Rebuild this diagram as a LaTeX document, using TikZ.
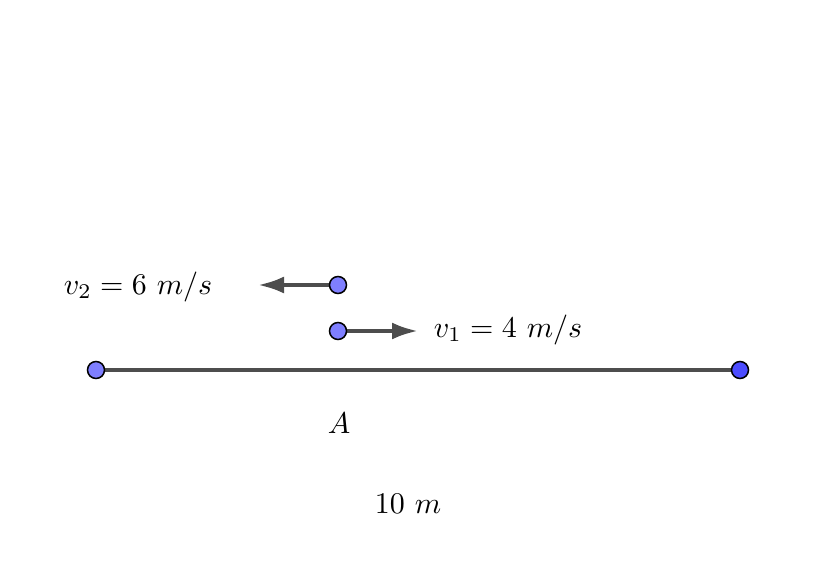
\documentclass[tikz,border=0pt]{standalone}
\usepackage{graphicx}
\usetikzlibrary{arrows.meta}
\definecolor{ptfill}{HTML}{7F7FFF}
\definecolor{ptdark}{HTML}{4D4DFF}
\definecolor{seg}{HTML}{4D4D4D}
\newcommand{\biglbl}[1]{\scalebox{3.0}{$#1$}}
\tikzset{
  pt/.style={circle,draw=black,line width=1.5pt,fill=ptfill,inner sep=0pt,minimum size=17pt},
  ptd/.style={pt,fill=ptdark},
  segline/.style={draw=seg,line width=4pt},
  vec/.style={draw=seg,line width=4pt,-{Latex[length=26pt,width=17pt]}},
  lbl/.style={inner sep=0pt}
}
\begin{document}
\begin{tikzpicture}[x=1pt,y=-1pt]
\useasboundingbox (0,0) rectangle (840,561);
\coordinate (Lend) at (96,370);
\coordinate (Rend) at (740,370);
\coordinate (tip2) at (258,285);
\coordinate (tip1) at (418,331);
\draw[segline] (Lend) -- (Rend);
\draw[vec] (338,285) -- (tip2);
\draw[vec] (338,331) -- (tip1);
\node[pt] (L) at (Lend) {};
\node[ptd] (R) at (Rend) {};
\node[pt] (P2) at (338,285) {};
\node[pt] (P1) at (338,331) {};
\node[lbl] (v2) at (138,287) {\biglbl{v_2 = 6\ m/s}};
\node[lbl] (v1) at (508,330) {\biglbl{v_1 = 4\ m/s}};
\node[lbl] (A) at (339,423) {\biglbl{A}};
\node[lbl] (d) at (408,504) {\biglbl{10\ m}};
\end{tikzpicture}
\end{document}
